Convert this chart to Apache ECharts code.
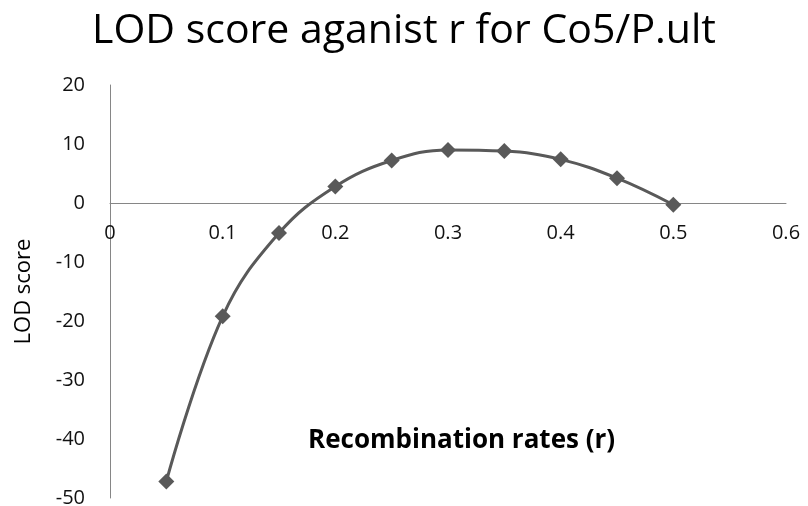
<!DOCTYPE html>
<html>
<head>
<meta charset="utf-8">
<script src="https://cdn.jsdelivr.net/npm/echarts@6/dist/echarts.min.js"></script>
<style>
  html, body { margin: 0; padding: 0; background: #fff; }
  #main { width: 808px; height: 506px; }
</style>
</head>
<body>
<div id="main"></div>
<script>
// recombination rate r and LOD score
const rates = [0.05, 0.1, 0.15, 0.2, 0.25, 0.3, 0.35, 0.4, 0.45, 0.5];
const lodScores = [-47.2, -19.2, -5.1, 2.8, 7.2, 9.0, 8.8, 7.4, 4.2, -0.3];

const titleText = 'LOD score aganist r for Co5/P.ult';
const xName = 'Recombination rates (r)';
const yName = 'LOD score';

const font = '"Open Sans", "Liberation Sans", sans-serif';

// plot box, the x axis sits on y = 0 (20 / 70 of the height down)
const gridTop = 85, gridBottom = 8, chartH = 506;
const yMin = -50, yMax = 20;
const zeroOffset = (chartH - gridTop - gridBottom) * (0 - yMin) / (yMax - yMin);

const myChart = echarts.init(document.getElementById('main'));
myChart.setOption({
    animation: false,
    title: {
        text: titleText,
        left: 'center',
        top: 6,
        textStyle: { fontFamily: font, fontSize: 41, fontWeight: 'normal', color: '#000' }
    },
    grid: { left: 110, right: 22, top: gridTop, bottom: gridBottom, containLabel: false, outerBoundsMode: 'none' },
    xAxis: {
        type: 'value',
        min: 0,
        max: 0.6,
        interval: 0.1,
        offset: -zeroOffset,
        axisLine: { onZero: false, lineStyle: { color: '#868686', width: 1 } },
        axisTick: { show: false },
        splitLine: { show: false },
        axisLabel: { margin: 20, fontFamily: font, fontSize: 20, color: '#111' }
    },
    yAxis: {
        type: 'value',
        min: yMin,
        max: yMax,
        interval: 10,
        name: yName,
        nameLocation: 'middle',
        nameGap: 75,
        nameTextStyle: { fontFamily: font, fontSize: 22, color: '#000' },
        axisLine: { show: true, lineStyle: { color: '#868686', width: 1 } },
        axisTick: { show: false },
        splitLine: { show: false },
        axisLabel: { margin: 25, fontFamily: font, fontSize: 20, color: '#111' }
    },
    graphic: [{
        type: 'text',
        left: 308,
        top: 428,
        style: { text: xName, font: 'bold 26px ' + font, fill: '#000' }
    }],
    series: [{
        type: 'line',
        data: rates.map((r, i) => [r, lodScores[i]]),
        smooth: 0.4,
        symbol: 'diamond',
        symbolSize: 16,
        lineStyle: { color: '#595959', width: 3 },
        itemStyle: { color: '#595959' }
    }]
});
</script>
</body>
</html>
